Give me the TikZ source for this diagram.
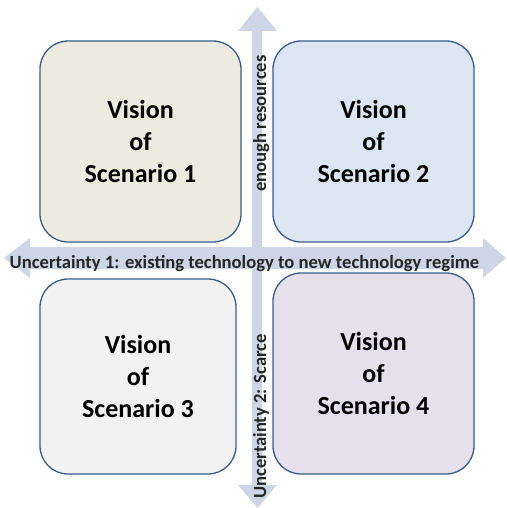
\documentclass[tikz,border=0pt]{standalone}
\usepackage{fontspec}
\setmainfont{Carlito}
\definecolor{arrowc}{RGB}{205,213,230}
\definecolor{edgec}{RGB}{56,93,138}
\definecolor{fillA}{RGB}{237,235,224}
\definecolor{fillB}{RGB}{220,230,242}
\definecolor{fillC}{RGB}{242,242,242}
\definecolor{fillD}{RGB}{229,224,236}
\begin{document}
\begin{tikzpicture}[x=1pt,y=-1pt,
  scenbox/.style={draw=edgec, line width=1.3pt, rounded corners=28pt, inner sep=0pt, align=center,
    font=\fontsize{26}{32}\selectfont\bfseries, text=black},
  axislabel/.style={font=\fontsize{18.6}{20}\selectfont\bfseries, text=black!85, inner sep=0pt}]
\useasboundingbox (0,0) rectangle (506,508);
% horizontal double arrow
\fill[arrowc] (4,258) -- (30,238) -- (30,247) -- (483,247) -- (483,238) -- (506,258)
  -- (483,278) -- (483,269) -- (30,269) -- (30,278) -- cycle;
% vertical double arrow
\fill[arrowc] (257.5,7) -- (277,31) -- (262,31) -- (262,485) -- (277,485) -- (257.5,508)
  -- (238,485) -- (252,485) -- (252,31) -- (238,31) -- cycle;
\node[scenbox, fill=fillA, minimum width=201pt, minimum height=201pt] (s1) at (140.5,141.5) {Vision\\of\\Scenario 1};
\node[scenbox, fill=fillB, minimum width=201pt, minimum height=201pt] (s2) at (373.5,141.5) {Vision\\of\\Scenario 2};
\node[scenbox, fill=fillC, minimum width=196pt, minimum height=195pt] (s3) at (138,376.5) {Vision\\of\\Scenario 3};
\node[scenbox, fill=fillD, minimum width=201pt, minimum height=201pt] (s4) at (373.5,373.5) {Vision\\of\\Scenario 4};
\node[axislabel, anchor=base] (u1) at (244.5,268) {Uncertainty 1: existing technology to new technology regime};
\node[axislabel, anchor=base, rotate=90] (er) at (266,123.5) {enough resources};
\node[axislabel, anchor=base, rotate=90] (u2) at (266,416.5) {Uncertainty 2: Scarce};
\end{tikzpicture}
\end{document}
